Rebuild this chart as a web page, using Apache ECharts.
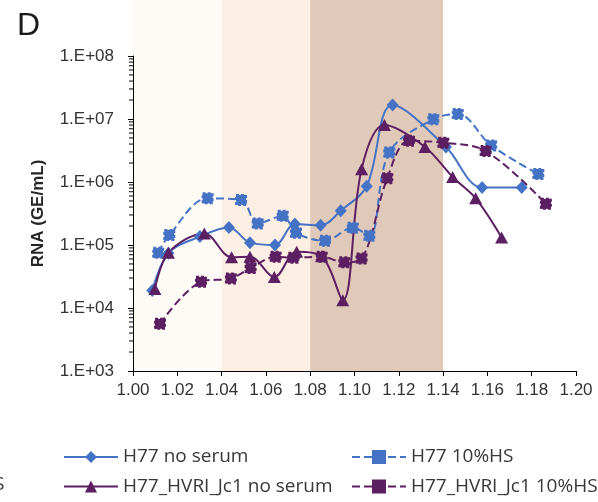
<!DOCTYPE html>
<html>
<head>
<meta charset="utf-8">
<script src="https://cdn.jsdelivr.net/npm/echarts@6/dist/echarts.min.js"></script>
<style>
  html, body { margin: 0; padding: 0; background: #ffffff; }
  #chart { width: 598px; height: 502px; }
</style>
</head>
<body>
<div id="chart"></div>
<script>
// Density (g/mL) vs RNA (GE/mL) for each virus / serum condition
const h77NoSerum = [
  [1.0087, 1.9e4], [1.0160, 7.4e4], [1.0302, 1.36e5], [1.0433, 1.9e5],
  [1.0528, 1.09e5], [1.0641, 1.0e5], [1.0731, 2.15e5], [1.0847, 2.05e5],
  [1.0938, 3.5e5], [1.1055, 8.6e5], [1.1172, 1.67e7], [1.1413, 3.6e6],
  [1.1576, 8.2e5], [1.1755, 8.2e5]
];
const h77Serum = [
  [1.0114, 7.5e4], [1.0164, 1.44e5], [1.0337, 5.5e5], [1.0488, 5.2e5],
  [1.0563, 2.2e5], [1.0676, 2.9e5], [1.0736, 1.57e5], [1.0867, 1.17e5],
  [1.0992, 1.88e5], [1.1067, 1.4e5], [1.1157, 2.95e6], [1.1356, 9.9e6],
  [1.1466, 1.2e7], [1.1617, 3.8e6], [1.1830, 1.34e6]
];
const hvriNoSerum = [
  [1.0099, 2.0e4], [1.0160, 7.5e4], [1.0322, 1.52e5], [1.0445, 6.4e4],
  [1.0528, 6.5e4], [1.0638, 3.1e4], [1.0739, 7.8e4], [1.0852, 6.6e4],
  [1.0947, 1.33e4], [1.1032, 1.6e6], [1.1135, 8.0e6], [1.1318, 3.6e6],
  [1.1443, 1.2e6], [1.1547, 5.5e5], [1.1664, 1.32e5]
];
const hvriSerum = [
  [1.0122, 5.6e3], [1.0307, 2.6e4], [1.0442, 2.95e4], [1.0531, 4.3e4],
  [1.0644, 6.5e4], [1.0724, 6.3e4], [1.0852, 6.5e4], [1.0954, 5.3e4],
  [1.1032, 6.1e4], [1.1148, 1.15e6], [1.1246, 4.5e6], [1.1401, 4.2e6],
  [1.1592, 3.1e6], [1.1864, 4.5e5]
];

const seriesNames = ['H77 no serum', 'H77 10%HS', 'H77_HVRI_Jc1 no serum', 'H77_HVRI_Jc1 10%HS'];

// shaded density fractions
const bandRanges = [[1.00, 1.04], [1.04, 1.08], [1.08, 1.14]];
const bandColors = ['#fefaf6', '#fdefe4', '#e1c9b9'];

// log-axis minor tick values (2..9 within each decade)
const decades = [1e3, 1e4, 1e5, 1e6, 1e7];
const minorMultipliers = [2, 3, 4, 5, 6, 7, 8, 9];
const minorTickValues = [];
decades.forEach(d => minorMultipliers.forEach(m => minorTickValues.push(d * m)));

const X_MIN = 1.0, X_MAX = 1.2;
const BLUE = '#4472c4';
const PURPLE = '#5c1f62';
const AXIS_FONT = "'Liberation Sans', Arial, sans-serif";
const LEGEND_FONT = "'Open Sans', sans-serif";

function lineSeries(name, data, color, dashed, symbol, size) {
  const s = {
    name: name,
    type: 'line',
    xAxisIndex: 0,
    yAxisIndex: 0,
    data: data,
    smooth: 0.35,
    symbol: symbol,
    symbolSize: size,
    showAllSymbol: true,
    z: 3,
    lineStyle: { color: color, width: 2, type: dashed ? [8, 4] : 'solid' },
    itemStyle: { color: color }
  };
  if (symbol === 'rect') {
    s.itemStyle = { color: color, borderColor: color, borderWidth: 2, borderType: [3, 2] };
  }
  return s;
}

function legendBlock(names, left) {
  return {
    data: names,
    orient: 'vertical',
    left: left,
    top: 447,
    padding: 0,
    itemWidth: 54,
    itemHeight: 15,
    itemGap: 9.5,
    textStyle: { fontFamily: LEGEND_FONT, fontSize: 19, color: '#383838', lineHeight: 20 },
    selectedMode: false
  };
}

const chart = echarts.init(document.getElementById('chart'), null, { renderer: 'canvas' });

chart.setOption({
  animation: false,
  backgroundColor: '#ffffff',
  title: {
    text: 'D',
    left: 12,
    top: 5,
    textStyle: { fontFamily: AXIS_FONT, fontSize: 32, fontWeight: 'normal', color: '#1a1a1a' }
  },
  grid: [
    { left: 133, right: 22, top: 56, bottom: 131 },
    { left: 133, right: 22, top: 0, bottom: 131 }
  ],
  xAxis: [
    {
      type: 'value', gridIndex: 0, min: X_MIN, max: X_MAX, interval: 0.02,
      axisLine: { show: true, lineStyle: { color: '#000', width: 1 } },
      axisTick: { show: true, inside: false, length: 5, lineStyle: { color: '#000' } },
      splitLine: { show: false },
      axisLabel: {
        margin: 11, fontFamily: AXIS_FONT, fontSize: 17, color: '#333',
        formatter: v => v.toFixed(2)
      }
    },
    { type: 'value', gridIndex: 1, min: X_MIN, max: X_MAX, show: false }
  ],
  yAxis: [
    {
      type: 'log', logBase: 10, gridIndex: 0, min: 1e3, max: 1e8,
      name: 'RNA (GE/mL)', nameLocation: 'middle', nameGap: 86,
      nameTextStyle: { fontFamily: AXIS_FONT, fontSize: 17, fontWeight: 'bold', color: '#262626' },
      axisLine: { show: true, lineStyle: { color: '#000', width: 1 } },
      axisTick: { show: true, inside: false, length: 5, lineStyle: { color: '#000' } },
      splitLine: { show: false },
      axisLabel: {
        margin: 19, fontFamily: AXIS_FONT, fontSize: 17, color: '#333',
        formatter: v => '1.E+' + String(Math.round(Math.log10(v))).padStart(2, '0')
      }
    },
    { type: 'value', gridIndex: 1, min: 0, max: 1, show: false }
  ],
  legend: [
    legendBlock([seriesNames[0], seriesNames[2]], 63),
    legendBlock([seriesNames[1], seriesNames[3]], 351)
  ],
  graphic: [
    {
      type: 'text', left: -6, top: 475,
      style: { text: 'S', font: "19px 'Open Sans', sans-serif", fill: '#383838' }
    }
  ],
  series: [
    {
      type: 'custom',
      name: 'bands',
      xAxisIndex: 1,
      yAxisIndex: 1,
      z: -5,
      silent: true,
      data: bandRanges.map((r, i) => [r[0], r[1], i]),
      renderItem: function (params, api) {
        const p0 = api.coord([api.value(0), 1]);
        const p1 = api.coord([api.value(1), 0]);
        return {
          type: 'rect',
          shape: { x: p0[0], y: p0[1], width: p1[0] - p0[0], height: p1[1] - p0[1] },
          style: { fill: bandColors[api.value(2)] }
        };
      }
    },
    {
      type: 'custom',
      name: 'minorTicks',
      xAxisIndex: 0,
      yAxisIndex: 0,
      silent: true,
      z: 4,
      data: minorTickValues.map(v => [X_MIN, v]),
      renderItem: function (params, api) {
        const p = api.coord([api.value(0), api.value(1)]);
        return {
          type: 'line',
          shape: { x1: p[0] - 4, y1: p[1], x2: p[0], y2: p[1] },
          style: { stroke: '#000', lineWidth: 1 }
        };
      }
    },
    lineSeries(seriesNames[0], h77NoSerum, BLUE, false, 'diamond', [12, 13]),
    lineSeries(seriesNames[1], h77Serum, BLUE, true, 'rect', 10),
    lineSeries(seriesNames[2], hvriNoSerum, PURPLE, false, 'triangle', [13, 12]),
    lineSeries(seriesNames[3], hvriSerum, PURPLE, true, 'rect', 10)
  ]
});
</script>
</body>
</html>
